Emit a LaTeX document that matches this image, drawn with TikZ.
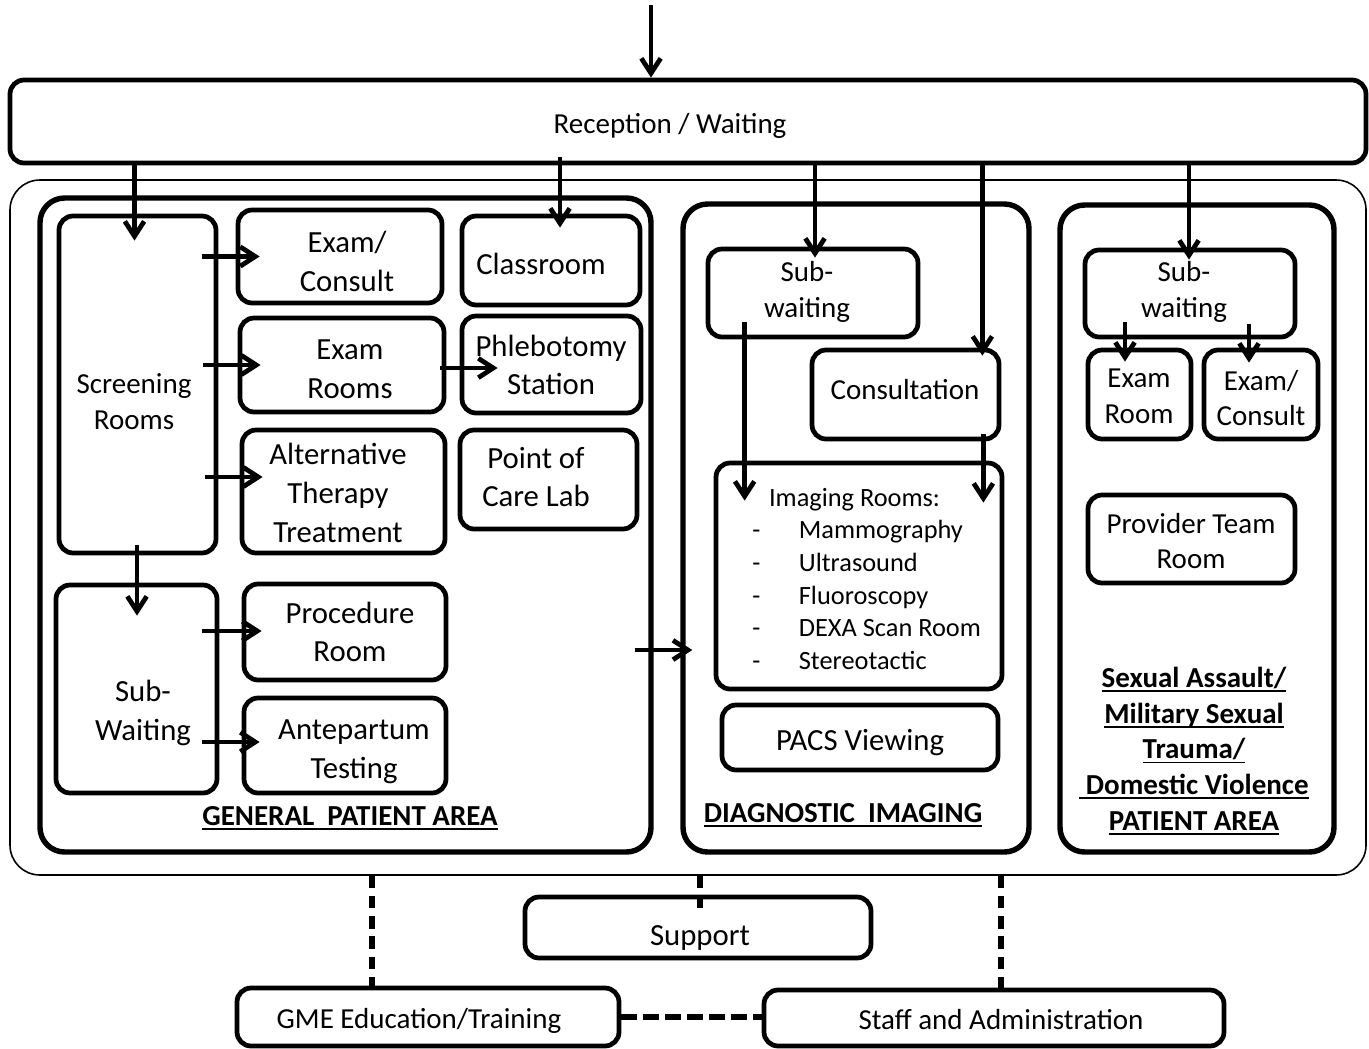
\documentclass[tikz,border=0pt]{standalone}
\usepackage{fontspec}
\setmainfont{Carlito}
\usetikzlibrary{arrows.meta,calc}
\newsavebox\ulbox
\newcommand\myul[1]{\sbox\ulbox{#1}\rlap{\rule[-2.6pt]{\wd\ulbox}{1.1pt}}\usebox\ulbox}
% box with its text at a given centre
\newcommand\rb[9]{\node[box, minimum width={(#4-#2)*0.02cm}, minimum height={(#5-#3)*0.02cm}] (#1) at ({(#2+#4)/2},{(#3+#5)/2}) {};
  \node[#7, inner sep=0pt] (#1t) at (#8,#9) {#6};}
\newcommand\ab[6]{\node[#6, minimum width={(#4-#2)*0.02cm}, minimum height={(#5-#3)*0.02cm}] (#1) at ({(#2+#4)/2},{(#3+#5)/2}) {};}
\begin{document}
\begin{tikzpicture}[x=0.02cm,y=-0.02cm,
  box/.style={draw, line width=2.7pt, rounded corners=8pt, inner sep=0pt},
  area/.style={draw, line width=3.1pt, rounded corners=14pt, inner sep=0pt},
  outerbox/.style={draw, line width=0.9pt, rounded corners=17pt, inner sep=0pt},
  txt/.style={align=center, font=\fontsize{16.5}{20.4}\selectfont},
  gtxt/.style={align=center, font=\fontsize{17.5}{22}\selectfont},
  lbl/.style={align=center, inner sep=0pt, font=\bfseries\fontsize{16.5}{20.3}\selectfont},
  arr/.style={line width=2.7pt, -{Straight Barb[length=8.5pt,width=11pt]}},
  dsh/.style={line width=2.9pt, dash pattern=on 7pt off 4.5pt},
  dshh/.style={line width=2.9pt, dash pattern=on 9pt off 3.5pt}]
\fill[white] (0,0) rectangle (1369,1048);
\useasboundingbox (0,0) rectangle (1369,1048);
% containers
\ab{rec}{10}{80}{1366}{163}{box}
\ab{outer}{10}{180}{1366}{875}{outerbox}
\ab{gen}{40}{198}{651}{852}{area}
\ab{di}{683}{204}{1029}{852}{area}
\ab{sa}{1060}{205}{1334}{852}{area}
% general patient area
\rb{scr}{59}{216}{216}{553}{Screening\\Rooms}{txt}{134}{402}
\rb{ec}{238}{210}{442}{303}{Exam/\\Consult}{gtxt}{347}{261.5}
\rb{cls}{462}{216}{640}{305}{Classroom}{gtxt}{541}{264}
\rb{er}{240}{318}{444}{412}{Exam\\Rooms}{gtxt}{350}{369}
\rb{phl}{462}{316}{641}{413}{Phlebotomy\\Station}{gtxt}{551}{365}
\rb{alt}{242}{430}{445}{553}{Alternative\\Therapy\\Treatment}{gtxt}{338}{493}
\rb{poc}{460}{430}{637}{529}{Point of\\Care Lab}{gtxt}{536}{477}
\rb{sw}{56}{585}{217}{793}{Sub-\\Waiting}{gtxt}{143}{713}
\rb{proc}{244}{584}{446}{680}{Procedure\\Room}{gtxt}{350}{632}
\rb{ant}{244}{698}{446}{793}{Antepartum\\Testing}{gtxt}{354}{752}
% diagnostic imaging
\rb{dsw}{708}{249}{918}{337}{Sub-\\waiting}{txt}{807}{292}
\rb{con}{812}{350}{999}{439}{Consultation}{txt}{905}{390}
\ab{img}{716}{463}{1002}{689}{box}
\rb{pacs}{722}{705}{998}{770}{PACS Viewing}{gtxt}{860}{743}
% sexual assault area
\rb{ssw}{1085}{250}{1295}{337}{Sub-\\waiting}{txt}{1184}{292}
\rb{serm}{1088}{350}{1191}{439}{Exam\\Room}{txt}{1139}{396}
\rb{sec}{1204}{350}{1318}{439}{Exam/\\Consult}{txt}{1261}{398}
\rb{prov}{1088}{495}{1295}{583}{Provider Team\\Room}{txt}{1191}{541}
% bottom
\rb{sup}{525}{897}{871}{958}{Support}{gtxt}{700}{938}
\rb{gme}{237}{988}{619}{1046}{GME Education/Training}{txt}{419}{1021}
\rb{stf}{764}{990}{1224}{1046}{Staff and Administration}{txt}{1001}{1020}
% free texts
\node[txt, inner sep=0pt] (rect) at (670,126) {Reception / Waiting};
\node[anchor=north west, align=left, inner sep=0pt, font=\fontsize{15}{18.5}\selectfont] (imgt) at (752,488)
  {\hspace*{9.5pt}Imaging Rooms:\\
   \makebox[26.5pt][l]{-}Mammography\\
   \makebox[26.5pt][l]{-}Ultrasound\\
   \makebox[26.5pt][l]{-}Fluoroscopy\\
   \makebox[26.5pt][l]{-}DEXA Scan Room\\
   \makebox[26.5pt][l]{-}Stereotactic};
\node[lbl] (genl) at (350,818) {\myul{GENERAL\ \ PATIENT AREA}};
\node[lbl] (dil) at (843,815) {\myul{DIAGNOSTIC\ \ IMAGING}};
\node[lbl] (sal) at (1194,751) {\myul{Sexual Assault/}\\\myul{Military Sexual}\\\myul{Trauma/}\\\myul{\ Domestic Violence}\\\myul{PATIENT AREA}};
% arrows
\coordinate (top) at (651,5);
\draw[arr] (top) -- (top |- rec.north);
\coordinate (a2) at ($(scr.north)+(-3,27)$);
\draw[arr] (a2 |- rec.south) -- (a2);
\coordinate (a3) at ($(cls.north)+(9,14)$);
\draw[arr] ($(a3 |- rec.south)+(0,-8)$) -- (a3);
\coordinate (a4) at ($(dsw.north)+(2,11)$);
\draw[arr] (a4 |- rec.south) -- (a4);
\coordinate (a5) at ($(con.north east)+(-19,8)$);
\draw[arr] (a5 |- rec.south) -- (a5);
\coordinate (a6) at ($(ssw.north)+(-1,12)$);
\draw[arr] (a6 |- rec.south) -- (a6);
\coordinate (a7) at ($(ec.west)+(24,0)$);
\draw[arr] ($(scr.east |- a7)+(-16,0)$) -- (a7);
\coordinate (a8) at ($(er.west)+(23,0)$);
\draw[arr] ($(scr.east |- a8)+(-15,0)$) -- (a8);
\coordinate (a9) at ($(alt.west)+(23,-14.5)$);
\draw[arr] ($(scr.east |- a9)+(-13,0)$) -- (a9);
\coordinate (a10) at ($(phl.west)+(38,3.5)$);
\draw[arr] ($(er.east |- a10)+(-6,0)$) -- (a10);
\coordinate (a11) at ($(sw.north)+(0.5,33)$);
\draw[arr] ($(a11 |- scr.south)+(0,-10)$) -- (a11);
\coordinate (a12) at ($(proc.west)+(20,-1)$);
\draw[arr] ($(sw.east |- a12)+(-17,0)$) -- (a12);
\coordinate (a13) at ($(ant.west)+(18,-3.5)$);
\draw[arr] ($(sw.east |- a13)+(-17,0)$) -- (a13);
\coordinate (a14) at ($(di.west)+(12,122)$);
\draw[arr] ($(gen.east |- a14)+(-19,0)$) -- (a14);
\coordinate (a15) at ($(img.north west)+(31,40)$);
\draw[arr] ($(a15 |- dsw.south)+(0,-17)$) -- (a15);
\coordinate (a16) at ($(img.north east)+(-21,42)$);
\draw[arr] ($(a16 |- con.south)+(0,-7)$) -- (a16);
\coordinate (a17) at ($(serm.north)+(-14.5,14)$);
\draw[arr] ($(a17 |- ssw.south)+(0,-17)$) -- (a17);
\coordinate (a18) at ($(sec.north)+(-12,15)$);
\draw[arr] ($(a18 |- ssw.south)+(0,-15)$) -- (a18);
% dashed links
\coordinate (d1) at ($(gme.north)+(-56,0)$);
\draw[dsh] (d1 |- outer.south) -- (d1);
\coordinate (d2) at ($(sup.north)+(2,18)$);
\draw[dsh] (d2 |- outer.south) -- (d2);
\coordinate (d3) at ($(stf.north)+(7,0)$);
\draw[dsh] (d3 |- outer.south) -- (d3);
\draw[dshh] (gme.east) -- (gme.east -| stf.west);
\end{tikzpicture}
\end{document}
